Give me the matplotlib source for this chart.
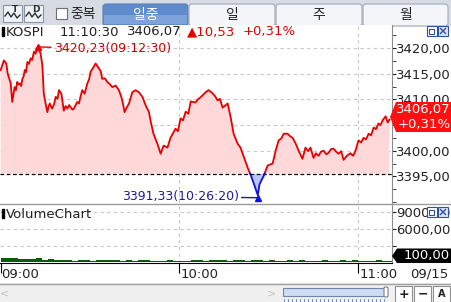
import numpy as np
import matplotlib
matplotlib.use("Agg")
import matplotlib.pyplot as plt
from matplotlib.patches import Rectangle, Polygon, FancyBboxPatch
from matplotlib.ticker import FuncFormatter, MultipleLocator, FixedLocator

plt.rcParams['font.family'] = ['DejaVu Sans', 'Noto Sans CJK KR']

# KOSPI intraday (minutes after 09:00)
times = [0, 0.6, 1.1, 1.9, 2.4, 3.4, 3.9, 4.7, 5.1, 5.6, 6.0, 6.5, 6.9, 7.3, 7.7, 8.1,
         8.5, 9.0, 9.5, 10.1, 10.6, 11.2, 11.7, 12.5, 13.4, 14.0, 14.5, 15.1, 15.7, 16.1,
         16.5, 17.3, 17.9, 18.5, 19.1, 19.6, 20.4, 21.2, 21.8, 22.4, 23.0, 23.5, 24.1,
         24.6, 25.7, 26.3, 26.8, 27.4, 28.2, 29.1, 29.7, 30.2, 31.0, 31.9, 33.0, 33.6,
         34.1, 35.0, 35.8, 36.6, 37.5, 38.6, 39.7, 40.5, 41.1, 41.6, 42.3, 43.1, 44.2,
         45.3, 46.4, 47.6, 48.7, 49.8, 50.3, 51.3, 52.7, 53.7, 54.7, 56, 57, 58.7, 59.5,
         60.4, 61.2, 62.1, 63.0, 63.8, 65.4, 66.2, 67.1, 68.8, 69.8, 71.1, 72.0, 72.8,
         73.6, 74.5, 76.2, 77.2, 78.2, 79.5, 80.5, 81.5, 82.9, 83.9, 84.9, 86.3, 86.9,
         88.3, 89.6, 91.3, 92.3, 93.3, 94.2, 95, 96.3, 97.2, 98, 99, 100, 101.3, 102.3,
         103.2, 104, 105, 105.8, 106.7, 107.5, 108.4, 109.3, 110.1, 110.9, 111.7, 112.6,
         113.4, 114.3, 115.1, 116.2, 117.4, 118.3, 119.1, 120.1, 121.0, 121.8, 122.6,
         123.5, 124.3, 125.2, 126.0, 126.8, 127.5, 128.2, 129.2, 129.9, 130.5]
prices = [3415.7, 3416.7, 3417.6, 3417.0, 3415.0, 3413.1, 3409.5, 3412.4, 3411.8, 3413.4,
          3412.9, 3413.1, 3412.6, 3414.0, 3414.4, 3415.7, 3415.3, 3417.3, 3416.9, 3418.0,
          3417.7, 3419.3, 3418.9, 3420.23, 3419.0, 3416.7, 3411.1, 3409.2, 3407.5, 3408.6,
          3409.2, 3408.2, 3409.0, 3410.5, 3410.1, 3411.8, 3411.1, 3407.8, 3408.7, 3408.2,
          3408.9, 3408.5, 3408.0, 3408.2, 3409.5, 3409.2, 3410.5, 3411.8, 3411.1, 3413.1,
          3413.9, 3415.4, 3416.1, 3417.0, 3416.0, 3415.5, 3414.0, 3414.1, 3413.4, 3413.0,
          3412.4, 3412.7, 3411.8, 3410.5, 3409.1, 3407.5, 3408.4, 3409.2, 3411.4, 3411.8,
          3411.4, 3410.5, 3408.8, 3407.5, 3405.9, 3403.3, 3401.2, 3399.4, 3401.0, 3400.6,
          3402.5, 3404.3, 3403.8, 3406.3, 3405.9, 3407.6, 3407.2, 3409.6, 3409.4, 3410.0,
          3410.4, 3411.4, 3411.8, 3411.2, 3410.6, 3409.8, 3410.1, 3408.4, 3409.2, 3406.5,
          3403.3, 3401.4, 3400.6, 3399.0, 3396.7, 3395.3, 3393.7, 3391.33, 3393.5, 3395.1,
          3397.1, 3397.5, 3400.0, 3402.0, 3402.4, 3403.3, 3403.3, 3402.8, 3402.5, 3401.4,
          3400.0, 3398.4, 3400.6, 3399.9, 3400.6, 3398.6, 3399.5, 3399.0, 3399.8, 3400.0,
          3399.3, 3399.6, 3400.3, 3400.4, 3399.8, 3399.4, 3399.9, 3398.2, 3399.0, 3399.5,
          3399.0, 3400.0, 3402.0, 3401.6, 3402.5, 3402.2, 3403.3, 3403.0, 3404.5, 3404.2,
          3405.3, 3405.0, 3405.9, 3406.7, 3405.5, 3406.07]
prev_close = 3395.54

# volume, 2 minute bins
vol_times = list(range(0, 132, 2))
volumes = [750, 800, 700, 650, 600, 550, 700, 450, 500, 400, 350, 400, 300, 350, 400, 300,
           350, 450, 350, 400, 300, 350, 300, 400, 350, 300, 250, 300, 350, 300, 250, 300,
           350, 400, 300, 350, 400, 350, 300, 400, 350, 300, 350, 400, 300, 350, 300, 250,
           350, 300, 350, 300, 250, 300, 350, 300, 250, 350, 300, 350, 300, 250, 300, 350,
           300, 200]

time_ticks = [0, 60, 120]
time_labels = ["09:00", "10:00", "11:00"]
price_ticks = [3395, 3400, 3405, 3410, 3415, 3420]
tabs = ["일중", "일", "주", "월"]

W, H = 452, 302
RED = "#e80000"
BLUE = "#1010e0"
TXT = "#222222"

fig = plt.figure(figsize=(W / 100, H / 100), dpi=100)


def frac(x0, y0, x1, y1):
    return [x0 / W, 1 - y1 / H, (x1 - x0) / W, (y1 - y0) / H]


def pix_axes(z):
    a = fig.add_axes([0, 0, 1, 1], zorder=z)
    a.set_xlim(0, W)
    a.set_ylim(H, 0)
    a.axis("off")
    a.patch.set_alpha(0)
    return a


bg = pix_axes(0)
fg = pix_axes(10)

# toolbar
bg.add_patch(Rectangle((0, 0), W, 25, color="#d6dbe4"))
for i, (x0, x1) in enumerate([(103, 188), (189, 275), (276, 362), (363, 448)]):
    sel = i == 0
    bg.add_patch(FancyBboxPatch((x0, 4), x1 - x0, 22, boxstyle="round,pad=0,rounding_size=3",
                                fc="#5f8bcc" if sel else "#f3f5f8",
                                ec="#5a7fb8" if sel else "#a2aab8", lw=0.8))
    if sel:
        bg.add_patch(Rectangle((x0 + 1, 15), x1 - x0 - 2, 9, color="#7ea2da", lw=0))
    bg.text((x0 + x1) / 2, 14.5, tabs[i], ha="center", va="center", fontsize=10,
            color="white" if sel else TXT)
bg.add_patch(Rectangle((56, 8), 11, 11, fc="white", ec="#707070", lw=0.8))
bg.text(70, 14, "중복", ha="left", va="center", fontsize=10, color=TXT)
for x0, letter in [(3, "T"), (24, "D")]:
    bg.add_patch(Rectangle((x0, 5), 19, 17, fc="#eef1f5", ec="#8a94a4", lw=0.8))
    bg.plot([x0 + 2, x0 + 5, x0 + 8, x0 + 11, x0 + 14, x0 + 17],
            [16, 12, 17, 13, 18, 15], color="#303030", lw=1)
    bg.text(x0 + 12, 10, letter, ha="center", va="center", fontsize=6.5,
            fontweight="bold", color="#303030")

# price panel
ax = fig.add_axes(frac(0, 25, 392, 203), zorder=2)
x_max = 392 / 2.98
ax.set_xlim(-0.2, x_max - 0.2)
ax.set_ylim(3389.8, 3424.5)
for s in ["top", "left", "bottom"]:
    ax.spines[s].set_visible(False)
ax.spines["right"].set_color("#8c8c8c")
ax.yaxis.tick_right()
ax.yaxis.set_major_locator(FixedLocator(price_ticks))
ax.yaxis.set_minor_locator(MultipleLocator(2.5))
# the 3405 label sits under the current-price box
ax.yaxis.set_major_formatter(FuncFormatter(
    lambda v, p: "" if abs(v - 3405) < 0.1 else f"{v:.2f}".replace(".", ",")))
ax.tick_params(axis="y", which="major", direction="out", length=3, pad=0,
               labelsize=9.5, colors=TXT)
ax.tick_params(axis="y", which="minor", direction="out", length=3, colors=TXT)
ax.set_xticks([])
for v in price_ticks[1:]:
    ax.axhline(v, color="#c8c8c8", lw=0.8, ls=(0, (3, 3)), zorder=0)
for t in time_ticks[1:]:
    ax.axvline(t, color="#c8c8c8", lw=0.8, ls=(0, (3, 3)), zorder=0)

t = np.array(times, dtype=float)
p = np.array(prices, dtype=float)
tt, pp = [t[0]], [p[0]]
for i in range(1, len(t)):
    a, b = p[i - 1] - prev_close, p[i] - prev_close
    if a * b < 0:
        tt.append(t[i - 1] + (t[i] - t[i - 1]) * a / (a - b))
        pp.append(prev_close)
    tt.append(t[i])
    pp.append(p[i])
tt, pp = np.array(tt), np.array(pp)
ax.fill_between(tt, pp, prev_close, where=pp >= prev_close, color="#ffd9d9", lw=0, zorder=1)
ax.fill_between(tt, pp, prev_close, where=pp <= prev_close, color="#b9c6fa", lw=0, zorder=1)
ax.plot(tt, np.where(pp >= prev_close, pp, np.nan), color=RED, lw=1.3, zorder=3)
ax.plot(tt, np.where(pp <= prev_close, pp, np.nan), color=BLUE, lw=1.3, zorder=3)
ax.axhline(prev_close, color="black", lw=0.9, ls=(0, (3, 2)), zorder=2)

hi = int(np.argmax(p))
lo = int(np.argmin(p))
ax.plot(t[hi], p[hi], marker="^", ms=5, color=RED, zorder=4)
ax.annotate(f"{p[hi]:.2f}".replace(".", ",") + "(09:12:30)", xy=(t[hi], p[hi]),
            xytext=(16, -2), textcoords="offset pixels", ha="left", va="center",
            fontsize=9, color="#d00000",
            arrowprops=dict(arrowstyle="-", color=RED, lw=1, shrinkA=0, shrinkB=0))
ax.plot(t[lo], p[lo] - 0.5, marker="^", ms=4, color=BLUE, zorder=4)
ax.annotate(f"{p[lo]:.2f}".replace(".", ",") + "(10:26:20)", xy=(t[lo], p[lo] - 0.5),
            xytext=(-19, 1), textcoords="offset pixels", ha="right", va="center",
            fontsize=9, color="#1c1c9c",
            arrowprops=dict(arrowstyle="-", color="#1c1c9c", lw=1, shrinkA=0, shrinkB=0))

# volume panel
vax = fig.add_axes(frac(0, 204, 392, 263), zorder=2)
vax.set_xlim(-0.2, x_max - 0.2)
vax.set_ylim(-150, 10500)
for s in ["top", "left"]:
    vax.spines[s].set_visible(False)
vax.spines["right"].set_color("#8c8c8c")
vax.spines["bottom"].set_color("black")
vax.yaxis.tick_right()
vax.set_yticks([3000, 6000, 9000])
vax.set_yticklabels(["", "6000,00", "9000,00"])
vax.tick_params(axis="y", direction="out", length=3, pad=0, labelsize=9.5, colors=TXT)
vax.set_xticks(time_ticks)
vax.set_xticklabels([])
vax.tick_params(axis="x", direction="out", length=7, colors="black")
for v in [3000, 6000, 9000]:
    vax.axhline(v, color="#c8c8c8", lw=0.8, ls=(0, (3, 3)), zorder=0)
for tk in time_ticks[1:]:
    vax.axvline(tk, color="#c8c8c8", lw=0.8, ls=(0, (3, 3)), zorder=0)
vax.bar(vol_times, volumes, width=2.0, align="edge", color="#0a5c0a", lw=0)
for tk, lab in zip(time_ticks, time_labels):
    vax.text(tk + 0.3, -11 / 58, lab, transform=vax.get_xaxis_transform(),
             ha="left", va="center", fontsize=9.5, color=TXT)

# header / overlays
fg.add_patch(Rectangle((2, 27), 2.5, 9, color="black"))
fg.text(6, 32, "KOSPI", ha="left", va="center", fontsize=9.5, color=TXT)
fg.text(60, 32, "11:10:30", ha="left", va="center", fontsize=9.5, color=TXT)
fg.text(127, 32, "3406,07", ha="left", va="center", fontsize=9.5, color=TXT)
fg.text(187, 32, "▲10,53", ha="left", va="center", fontsize=9.5, color=RED)
fg.text(243, 32, "+0,31%", ha="left", va="center", fontsize=9.5, color=RED)
fg.add_patch(Rectangle((2, 209), 2.5, 9, color="black"))
fg.text(6, 214, "VolumeChart", ha="left", va="center", fontsize=9.5, color=TXT)
for y0 in [26, 207]:
    fg.add_patch(Rectangle((427, y0), 10, 10, fc="white", ec="#3050a0", lw=0.8))
    fg.add_patch(Rectangle((429.5, y0 + 2.5), 5, 5, fc="none", ec="#3050a0", lw=0.8))
    fg.add_patch(Rectangle((438, y0), 10, 10, fc="#dde6f5", ec="#3050a0", lw=0.8))
    fg.plot([440.5, 445.5], [y0 + 2.5, y0 + 7.5], color="#3050a0", lw=1)
    fg.plot([440.5, 445.5], [y0 + 7.5, y0 + 2.5], color="#3050a0", lw=1)
fg.plot([0, W], [203.5, 203.5], color="#9a9a9a", lw=1)

# current price box
fg.add_patch(Polygon([(390, 117), (396, 102), (W, 102), (W, 132), (396, 132)],
                     closed=True, color="#ff1010", lw=0))
fg.text(451, 110, "3406,07", ha="right", va="center", fontsize=9.5, color="white")
fg.text(451, 124.5, "+0,31%", ha="right", va="center", fontsize=9.5, color="white")
# current volume box
fg.add_patch(Polygon([(392, 256), (397, 248.5), (W, 248.5), (W, 263), (397, 263)],
                     closed=True, color="black", lw=0))
fg.text(450, 256, "100,00", ha="right", va="center", fontsize=9.5, color="white")

fg.text(410, 274, "09/15", ha="left", va="center", fontsize=9.5, color=TXT)

# scroll bar
bg.add_patch(Rectangle((0, 283), W, 19, color="#f0f0f0"))
bg.plot([0, W], [283.5, 283.5], color="#a0a0a0", lw=1)
bg.text(5, 293, "<", ha="center", va="center", fontsize=8, color="#c0c0c0")
bg.text(272, 293, ">", ha="center", va="center", fontsize=8, color="#c0c0c0")
bg.add_patch(Rectangle((283, 288), 104, 8, fc="#cfdcf1", ec="#6f86ad", lw=0.8))
bg.add_patch(FancyBboxPatch((384, 287), 4, 10, boxstyle="round,pad=0,rounding_size=1.5",
                            fc="white", ec="#808080", lw=0.8))
for xx in range(284, 387, 4):
    bg.plot([xx, xx], [299, 301], color="#6080b0", lw=0.6)
for x0, s in [(395, "+"), (414, "−"), (433, "A")]:
    bg.add_patch(Rectangle((x0, 286), 17, 16, fc="white", ec="#909090", lw=0.8))
    bg.text(x0 + 8.5, 294, s, ha="center", va="center", fontsize=9 if s != "A" else 7,
            fontweight="bold", color="#202020")

fig.savefig("out.png", dpi=100)
